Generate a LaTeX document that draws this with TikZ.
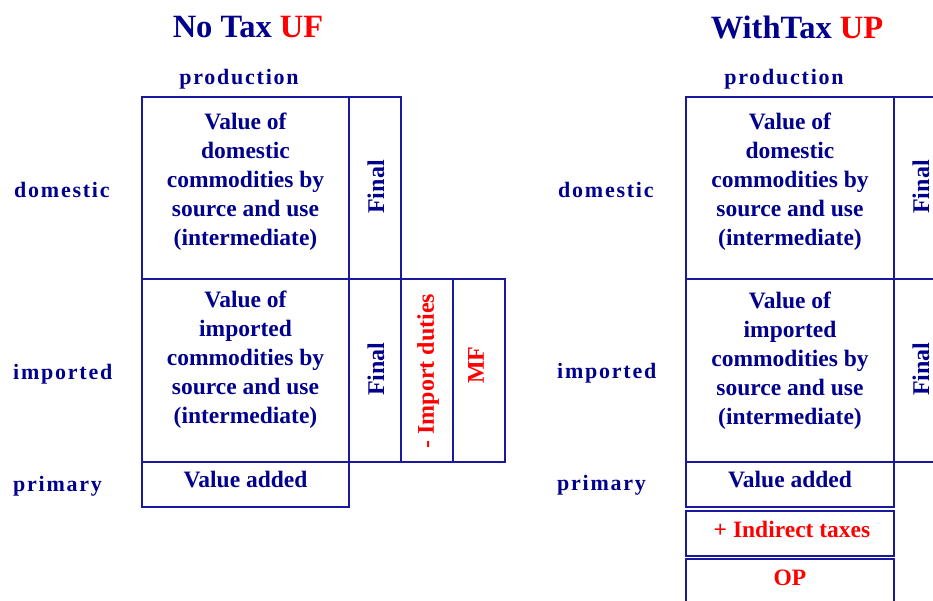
\documentclass[tikz,border=0pt]{standalone}
\usepackage{fontspec}
\setmainfont{Liberation Serif}
\newfontfamily\spacedfont[LetterSpace=8]{Liberation Serif}
\definecolor{navy}{RGB}{0,0,140}
\definecolor{linecol}{RGB}{25,25,160}
\definecolor{redtxt}{RGB}{255,0,0}
\tikzset{
  cell/.style={draw=linecol, line width=1.8pt, inner sep=0pt, outer sep=0pt, rectangle},
  bodytxt/.style={text=navy, font=\bfseries\fontsize{23.5}{29}\selectfont, align=center, inner sep=0pt},
  redbody/.style={text=redtxt, font=\bfseries\fontsize{23.5}{29}\selectfont, align=center, inner sep=0pt},
  vtxt/.style={bodytxt, rotate=90, font=\bfseries\fontsize{24}{29}\selectfont},
  vred/.style={redbody, rotate=90, font=\bfseries\fontsize{24}{29}\selectfont},
  titletxt/.style={text=navy, font=\bfseries\fontsize{32.5}{38}\selectfont, inner sep=0pt},
  rowlab/.style={text=navy, font=\spacedfont\bfseries\fontsize{22}{26}\selectfont, inner sep=0pt, anchor=base west},
  collab/.style={text=navy, font=\spacedfont\bfseries\fontsize{22}{26}\selectfont, inner sep=0pt}
}
\begin{document}
\begin{tikzpicture}[x=1pt,y=-1pt]
\useasboundingbox (0,0) rectangle (933,600);
\clip (0,0) rectangle (933,600);

% ---------- Left panel: No Tax UF ----------
\node[titletxt] (titleL) at (248,27) {No Tax \textcolor{redtxt}{UF}};
\node[collab] (prodL) at (239,79) {production};
\node[rowlab] (domlabL) at (14,197) {domestic};
\node[rowlab] (implabL) at (13,379) {imported};
\node[rowlab] (primlabL) at (13,491) {primary};

\node[cell, minimum width=207, minimum height=182] (domL) at (245.5,188) {};
\node[cell, minimum width=52, minimum height=182] (finL1) at (375,188) {};
\node[cell, minimum width=207, minimum height=183] (impL) at (245.5,370.5) {};
\node[cell, minimum width=52, minimum height=183] (finL2) at (375,370.5) {};
\node[cell, minimum width=52, minimum height=183] (dutyL) at (427,370.5) {};
\node[cell, minimum width=52, minimum height=183] (mfL) at (479,370.5) {};
\node[cell, minimum width=207, minimum height=45] (vaL) at (245.5,484.5) {};

\node[bodytxt, anchor=north] (domLt) at (245.5,113) {Value of\\domestic\\commodities by\\source and use\\(intermediate)};
\node[bodytxt, anchor=north] (impLt) at (245.5,291) {Value of\\imported\\commodities by\\source and use\\(intermediate)};
\node[bodytxt] (vaLt) at (245.5,480) {Value added};
\node[vtxt] (finL1t) at (376,187) {Final};
\node[vtxt] (finL2t) at (376,369) {Final};
\node[vred] (dutyLt) at (428,371) {- Import duties};
\node[vred] (mfLt) at (476,365) {MF};

% ---------- Right panel: WithTax UP ----------
\node[titletxt] (titleR) at (797,27) {WithTax \textcolor{redtxt}{UP}};
\node[collab] (prodR) at (784,79) {production};
\node[rowlab] (domlabR) at (558,197) {domestic};
\node[rowlab] (implabR) at (557,378) {imported};
\node[rowlab] (primlabR) at (557,490) {primary};

\node[cell, minimum width=208, minimum height=182] (domR) at (790,188) {};
\node[cell, minimum width=52, minimum height=182] (finR1) at (920,188) {};
\node[cell, minimum width=208, minimum height=183] (impR) at (790,370.5) {};
\node[cell, minimum width=52, minimum height=183] (finR2) at (920,370.5) {};
\node[cell, minimum width=208, minimum height=45] (vaR) at (790,484.5) {};
\node[cell, minimum width=208, minimum height=45] (itR) at (790,533.5) {};
\node[cell, minimum width=208, minimum height=61] (opR) at (790,589.5) {};

\node[bodytxt, anchor=north] (domRt) at (790,113) {Value of\\domestic\\commodities by\\source and use\\(intermediate)};
\node[bodytxt, anchor=north] (impRt) at (790,292) {Value of\\imported\\commodities by\\source and use\\(intermediate)};
\node[bodytxt] (vaRt) at (790,480) {Value added};
\node[redbody] (itRt) at (792,529.5) {+ Indirect taxes};
\node[redbody] (opRt) at (790,578) {OP};
\node[vtxt] (finR1t) at (921,187) {Final};
\node[vtxt] (finR2t) at (921,369) {Final};
\end{tikzpicture}
\end{document}
